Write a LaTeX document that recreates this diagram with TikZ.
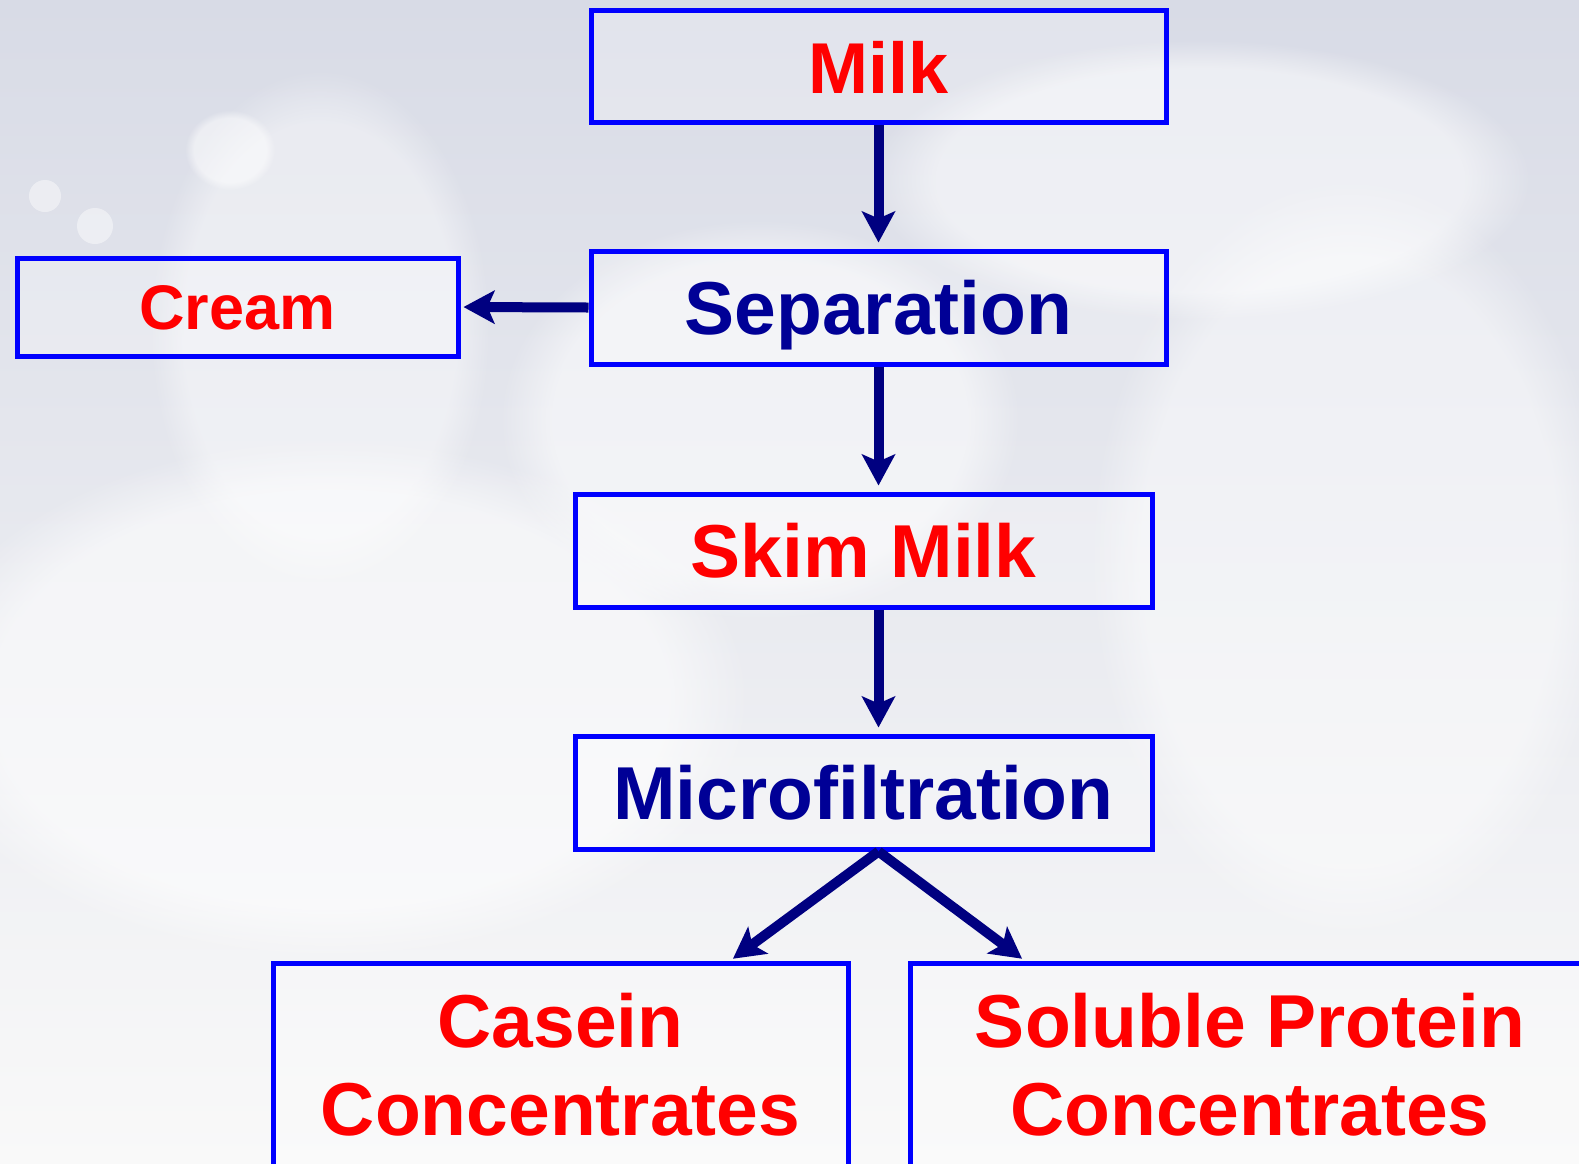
\documentclass[tikz,border=0pt]{standalone}
\usepackage{fontspec}
\setmainfont{Liberation Sans}
\usetikzlibrary{arrows.meta,fadings}

\definecolor{boxblue}{RGB}{0,0,255}
\definecolor{arrownavy}{RGB}{0,0,128}
\definecolor{textnavy}{RGB}{0,0,150}
\definecolor{textred}{RGB}{255,0,0}
\definecolor{bgtop}{RGB}{216,219,230}
\definecolor{bgmid}{RGB}{240,241,245}
\definecolor{bgbot}{RGB}{249,249,249}

\tikzset{
  box/.style={draw=boxblue, line width=5pt, fill=white, fill opacity=0.25,
    text opacity=1, inner sep=0pt, font=\bfseries\fontsize{75}{88}\selectfont},
  oneline/.style={box, text height=54pt, text depth=0pt},
  redtext/.style={text=textred},
  navytext/.style={text=textnavy},
  flow/.style={draw=arrownavy, line width=10pt,
    -{Stealth[length=31pt, width=33pt, inset=7pt]}},
  splash/.style={fill=white, path fading=circle with fuzzy edge 20 percent}
}

\begin{document}
\begin{tikzpicture}[x=1pt, y=-1pt]
  \useasboundingbox (0,0) rectangle (1579,1163);
  \clip (0,0) rectangle (1579,1163);

  % soft milky backdrop
  \shade[top color=bgtop, middle color=bgmid, bottom color=bgbot]
    (0,0) rectangle (1579,1163);
  \fill[splash, opacity=0.55] (330,700) ellipse (420 and 260);
  \fill[splash, opacity=0.45] (1350,560) ellipse (260 and 380);
  \fill[splash, opacity=0.40] (320,330) ellipse (170 and 260);
  \fill[splash, opacity=0.50] (760,420) ellipse (260 and 200);
  \fill[splash, opacity=0.50] (1200,180) ellipse (330 and 140);
  \fill[white, opacity=0.45] (45,196) circle (16);
  \fill[white, opacity=0.45] (95,226) circle (18);
  \fill[splash, opacity=0.5] (230,150) ellipse (45 and 40);

  % process boxes
  \node[oneline, redtext, minimum width=575pt, minimum height=112pt,
    font=\bfseries\fontsize{72}{86}\selectfont]
    (milk) at (878.5,66) {Milk};
  \node[oneline, navytext, minimum width=575pt, minimum height=113pt]
    (sep) at (878.5,307.5) {Separation};
  \node[oneline, redtext, minimum width=441pt, minimum height=98pt,
    font=\bfseries\fontsize{63}{75}\selectfont, text height=45pt]
    (cream) at (237.5,307) {Cream};
  \node[oneline, redtext, minimum width=577pt, minimum height=113pt]
    (skim) at (863.5,550.5) {Skim Milk};
  \node[oneline, navytext, minimum width=577pt, minimum height=113pt]
    (micro) at (863.5,792.5) {Microfiltration};
  \node[box, redtext, align=center, minimum width=575pt, minimum height=203pt]
    (casein) at (560.5,1064.5) {Casein\\Concentrates};
  \node[box, redtext, align=center, minimum width=680pt, minimum height=203pt]
    (soluble) at (1250,1064.5) {Soluble Protein\\Concentrates};

  % connectors
  \draw[flow, shorten >=6pt] (milk.south) -- (sep.north);
  \draw[flow, shorten >=3pt] (sep.west) -- (cream.east);
  \draw[flow, shorten >=6pt] (sep.south) -- (sep.south |- skim.north);
  \draw[flow, shorten >=6pt] (sep.south |- skim.south) -- (sep.south |- micro.north);
  \coordinate (split) at (sep.south |- micro.south);
  \draw[flow, shorten >=3pt] (split) -- ([xshift=-120pt]casein.north east);
  \draw[flow, shorten >=3pt] (split) -- ([xshift=117pt]soluble.north west);
\end{tikzpicture}
\end{document}
